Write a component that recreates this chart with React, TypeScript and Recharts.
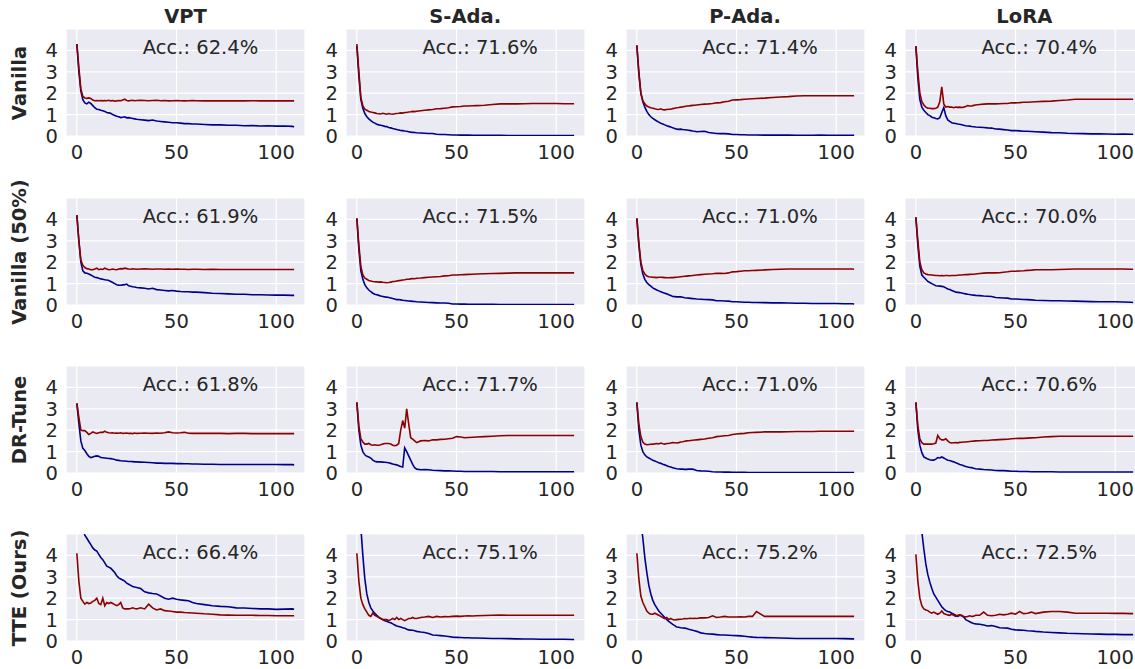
import React from 'react';
import { LineChart, Line, XAxis, YAxis, CartesianGrid } from 'recharts';

// epochs sampled from the curves (dense where the curves move, sparse where flat)
const EPOCHS = [
  0, 1, 2, 3, 4, 5, 6, 7, 8, 9,
  10, 11, 12, 13, 14, 15, 16, 17, 18, 19,
  20, 21, 22, 23, 24, 25, 26, 27, 28, 29, 30,
  32, 34, 36, 38, 40, 42, 44, 46, 48, 50, 52, 54, 56, 58, 60,
  64, 68, 72, 76, 80, 84, 88, 92, 96, 100, 104, 108, 109,
];

const METHODS = ['VPT', 'S-Ada.', 'P-Ada.', 'LoRA'];
const SETTINGS = ['Vanilla', 'Vanilla (50%)', 'DR-Tune', 'TTE (Ours)'];
const ACC = [
  [62.4, 71.6, 71.4, 70.4],
  [61.9, 71.5, 71.0, 70.0],
  [61.8, 71.7, 71.0, 70.6],
  [66.4, 75.1, 75.2, 72.5],
];

// ---- Vanilla ----
const vanVptRed = [
  4.3, 3.2, 2.2, 1.85, 1.78, 1.76, 1.78, 1.75, 1.68, 1.65,
  1.66, 1.65, 1.66, 1.64, 1.66, 1.65, 1.67, 1.64, 1.66, 1.63,
  1.64, 1.66, 1.65, 1.68, 1.72, 1.66, 1.64, 1.66, 1.67, 1.65, 1.66,
  1.67, 1.66, 1.65, 1.66, 1.67, 1.65, 1.66, 1.64, 1.65, 1.66, 1.65, 1.64, 1.65, 1.66, 1.65,
  1.64, 1.65, 1.64, 1.65, 1.64, 1.64, 1.65, 1.64, 1.64, 1.64, 1.64, 1.64, 1.64,
];
const vanVptBlue = [
  4.3, 3.0, 2.1, 1.7, 1.55, 1.5, 1.58, 1.52, 1.42, 1.32,
  1.25, 1.24, 1.2, 1.18, 1.15, 1.1, 1.08, 1.06, 1.0, 0.96,
  0.92, 0.9, 0.86, 0.88, 0.9, 0.85, 0.86, 0.84, 0.82, 0.8, 0.78,
  0.76, 0.74, 0.72, 0.75, 0.7, 0.68, 0.66, 0.64, 0.62, 0.62, 0.6, 0.58, 0.58, 0.56, 0.56,
  0.54, 0.52, 0.52, 0.5, 0.5, 0.48, 0.49, 0.47, 0.48, 0.46, 0.47, 0.45, 0.43,
];
const vanSadaRed = [
  4.3, 3.0, 1.8, 1.4, 1.25, 1.2, 1.15, 1.12, 1.1, 1.08,
  1.05, 1.04, 1.03, 1.06, 1.04, 1.02, 1.05, 1.03, 1.02, 1.04,
  1.05, 1.06, 1.08, 1.07, 1.1, 1.1, 1.12, 1.13, 1.15, 1.14, 1.16,
  1.18, 1.2, 1.22, 1.24, 1.27, 1.28, 1.3, 1.32, 1.36, 1.37, 1.38, 1.4, 1.4, 1.41, 1.42,
  1.44, 1.47, 1.5, 1.5, 1.5, 1.51, 1.52, 1.52, 1.52, 1.52, 1.51, 1.51, 1.51,
];
const vanSadaBlue = [
  4.2, 2.8, 1.7, 1.3, 1.05, 0.9, 0.8, 0.72, 0.65, 0.6,
  0.55, 0.52, 0.5, 0.48, 0.45, 0.44, 0.4, 0.38, 0.35, 0.33,
  0.3, 0.28, 0.26, 0.25, 0.23, 0.22, 0.2, 0.18, 0.17, 0.16, 0.15,
  0.14, 0.13, 0.12, 0.12, 0.08, 0.07, 0.07, 0.06, 0.05, 0.05, 0.04, 0.04, 0.04, 0.03, 0.03,
  0.03, 0.03, 0.03, 0.02, 0.02, 0.02, 0.02, 0.02, 0.02, 0.02, 0.02, 0.02, 0.02,
];
const vanPadaRed = [
  4.25, 3.0, 2.0, 1.65, 1.5, 1.4, 1.35, 1.32, 1.3, 1.27,
  1.25, 1.24, 1.27, 1.23, 1.22, 1.24, 1.25, 1.25, 1.28, 1.3,
  1.32, 1.33, 1.35, 1.36, 1.38, 1.4, 1.4, 1.42, 1.43, 1.44, 1.45,
  1.47, 1.49, 1.5, 1.52, 1.55, 1.56, 1.6, 1.62, 1.68, 1.69, 1.7, 1.72, 1.73, 1.74, 1.75,
  1.77, 1.8, 1.82, 1.84, 1.87, 1.88, 1.88, 1.88, 1.88, 1.88, 1.88, 1.88, 1.88,
];
const vanPadaBlue = [
  4.2, 2.9, 2.0, 1.6, 1.35, 1.15, 1.0, 0.9, 0.82, 0.76,
  0.7, 0.65, 0.6, 0.56, 0.52, 0.48, 0.45, 0.42, 0.38, 0.35,
  0.32, 0.31, 0.32, 0.3, 0.29, 0.28, 0.27, 0.25, 0.23, 0.22, 0.2,
  0.21, 0.22, 0.16, 0.14, 0.12, 0.11, 0.11, 0.1, 0.07, 0.07, 0.06, 0.06, 0.05, 0.05, 0.05,
  0.04, 0.04, 0.04, 0.04, 0.03, 0.03, 0.03, 0.04, 0.03, 0.03, 0.03, 0.03, 0.03,
];
const vanLoraRed = [
  4.2, 3.0, 2.0, 1.6, 1.45, 1.35, 1.3, 1.3, 1.28, 1.28,
  1.3, 1.35, 1.6, 2.3, 1.5, 1.35, 1.38, 1.35, 1.35, 1.32,
  1.35, 1.34, 1.35, 1.33, 1.35, 1.38, 1.42, 1.4, 1.4, 1.43, 1.45,
  1.47, 1.49, 1.5, 1.5, 1.5, 1.51, 1.52, 1.52, 1.55, 1.55, 1.56, 1.58, 1.58, 1.59, 1.6,
  1.62, 1.63, 1.66, 1.68, 1.72, 1.72, 1.72, 1.72, 1.72, 1.72, 1.72, 1.72, 1.72,
];
const vanLoraBlue = [
  4.2, 2.7, 1.7, 1.35, 1.2, 1.1, 1.0, 0.95, 0.88, 0.85,
  0.82, 0.8, 0.85, 1.1, 1.33, 0.95, 0.75, 0.68, 0.62, 0.6,
  0.58, 0.56, 0.55, 0.53, 0.5, 0.48, 0.47, 0.46, 0.44, 0.43, 0.42,
  0.41, 0.4, 0.38, 0.37, 0.33, 0.32, 0.3, 0.28, 0.25, 0.25, 0.24, 0.22, 0.22, 0.21, 0.2,
  0.18, 0.16, 0.15, 0.13, 0.12, 0.11, 0.1, 0.1, 0.09, 0.08, 0.09, 0.08, 0.08,
];

// ---- Vanilla (50%) ----
const halfVptRed = [
  4.2, 3.0, 2.1, 1.85, 1.75, 1.7, 1.68, 1.65, 1.65, 1.68,
  1.72, 1.65, 1.68, 1.66, 1.72, 1.68, 1.65, 1.66, 1.68, 1.66,
  1.65, 1.68, 1.7, 1.69, 1.72, 1.7, 1.68, 1.67, 1.69, 1.68, 1.67,
  1.68, 1.69, 1.68, 1.67, 1.68, 1.68, 1.67, 1.68, 1.67, 1.68, 1.67, 1.67, 1.66, 1.67, 1.67,
  1.66, 1.67, 1.66, 1.66, 1.66, 1.66, 1.66, 1.66, 1.66, 1.66, 1.66, 1.66, 1.66,
];
const halfVptBlue = [
  4.2, 3.0, 2.0, 1.6, 1.5, 1.48, 1.45, 1.4, 1.35, 1.3,
  1.28, 1.25, 1.22, 1.2, 1.18, 1.17, 1.15, 1.1, 1.05, 1.0,
  0.95, 0.93, 0.92, 0.94, 0.95, 0.98, 0.9, 0.88, 0.85, 0.84, 0.82,
  0.8, 0.78, 0.75, 0.78, 0.72, 0.7, 0.68, 0.66, 0.68, 0.65, 0.63, 0.62, 0.62, 0.6, 0.6,
  0.58, 0.55, 0.54, 0.52, 0.5, 0.5, 0.48, 0.48, 0.47, 0.46, 0.46, 0.45, 0.45,
];
const halfSadaRed = [
  4.05, 2.8, 1.8, 1.4, 1.25, 1.2, 1.15, 1.12, 1.1, 1.09,
  1.08, 1.07, 1.08, 1.06, 1.05, 1.04, 1.05, 1.07, 1.1, 1.1,
  1.12, 1.14, 1.15, 1.17, 1.18, 1.2, 1.2, 1.22, 1.24, 1.23, 1.25,
  1.26, 1.28, 1.3, 1.31, 1.32, 1.33, 1.36, 1.37, 1.4, 1.4, 1.41, 1.42, 1.43, 1.44, 1.45,
  1.46, 1.47, 1.48, 1.49, 1.5, 1.5, 1.5, 1.5, 1.5, 1.5, 1.5, 1.5, 1.5,
];
const halfSadaBlue = [
  4.05, 2.6, 1.6, 1.2, 0.95, 0.8, 0.7, 0.62, 0.55, 0.5,
  0.48, 0.45, 0.42, 0.4, 0.38, 0.37, 0.35, 0.33, 0.3, 0.28,
  0.25, 0.26, 0.24, 0.22, 0.21, 0.2, 0.19, 0.18, 0.17, 0.16, 0.15,
  0.14, 0.13, 0.12, 0.11, 0.1, 0.09, 0.09, 0.08, 0.05, 0.05, 0.04, 0.04, 0.03, 0.03, 0.03,
  0.03, 0.03, 0.02, 0.02, 0.02, 0.02, 0.02, 0.02, 0.02, 0.02, 0.02, 0.02, 0.02,
];
const halfPadaRed = [
  4.05, 2.9, 2.0, 1.6, 1.45, 1.35, 1.32, 1.31, 1.3, 1.29,
  1.28, 1.3, 1.3, 1.29, 1.28, 1.27, 1.27, 1.28, 1.28, 1.29,
  1.3, 1.31, 1.32, 1.33, 1.34, 1.35, 1.36, 1.37, 1.38, 1.39, 1.4,
  1.42, 1.44, 1.45, 1.46, 1.48, 1.48, 1.47, 1.5, 1.55, 1.56, 1.58, 1.6, 1.6, 1.61, 1.62,
  1.64, 1.66, 1.67, 1.68, 1.68, 1.68, 1.68, 1.68, 1.68, 1.68, 1.68, 1.68, 1.67,
];
const halfPadaBlue = [
  4.05, 2.8, 1.9, 1.45, 1.2, 1.05, 0.95, 0.88, 0.8, 0.75,
  0.7, 0.66, 0.62, 0.58, 0.55, 0.52, 0.48, 0.44, 0.4, 0.39,
  0.38, 0.38, 0.38, 0.36, 0.34, 0.33, 0.32, 0.31, 0.3, 0.29, 0.28,
  0.27, 0.26, 0.25, 0.24, 0.2, 0.2, 0.19, 0.18, 0.15, 0.15, 0.14, 0.13, 0.13, 0.12, 0.12,
  0.11, 0.1, 0.1, 0.09, 0.08, 0.08, 0.07, 0.07, 0.07, 0.07, 0.06, 0.06, 0.05,
];
const halfLoraRed = [
  4.1, 3.0, 2.0, 1.65, 1.5, 1.45, 1.42, 1.41, 1.4, 1.39,
  1.38, 1.38, 1.37, 1.38, 1.37, 1.38, 1.38, 1.37, 1.38, 1.38,
  1.38, 1.39, 1.4, 1.4, 1.41, 1.42, 1.42, 1.43, 1.44, 1.44, 1.45,
  1.47, 1.49, 1.5, 1.5, 1.5, 1.51, 1.53, 1.55, 1.58, 1.58, 1.59, 1.6, 1.62, 1.63, 1.65,
  1.65, 1.65, 1.66, 1.67, 1.68, 1.68, 1.68, 1.68, 1.68, 1.68, 1.68, 1.67, 1.67,
];
const halfLoraBlue = [
  4.1, 2.8, 1.8, 1.4, 1.3, 1.2, 1.1, 1.05, 1.0, 0.95,
  0.9, 0.89, 0.88, 0.87, 0.85, 0.8, 0.75, 0.72, 0.68, 0.64,
  0.6, 0.59, 0.58, 0.56, 0.54, 0.52, 0.5, 0.49, 0.47, 0.46, 0.45,
  0.44, 0.42, 0.41, 0.4, 0.35, 0.34, 0.33, 0.32, 0.28, 0.28, 0.27, 0.26, 0.25, 0.24, 0.22,
  0.21, 0.2, 0.2, 0.19, 0.18, 0.17, 0.16, 0.15, 0.15, 0.15, 0.14, 0.13, 0.12,
];

// ---- DR-Tune ----
const drVptRed = [
  3.25, 2.6, 2.0, 1.98, 1.98, 1.9, 1.8, 1.85, 1.92, 1.88,
  1.85, 1.88, 1.9, 1.9, 1.95, 1.9, 1.88, 1.87, 1.88, 1.86,
  1.87, 1.86, 1.88, 1.85, 1.86, 1.87, 1.85, 1.86, 1.84, 1.87, 1.85,
  1.86, 1.87, 1.86, 1.85, 1.87, 1.86, 1.88, 1.92, 1.88, 1.87, 1.88, 1.9, 1.86, 1.85, 1.85,
  1.86, 1.85, 1.85, 1.84, 1.85, 1.85, 1.84, 1.84, 1.84, 1.84, 1.84, 1.84, 1.84,
];
const drVptBlue = [
  3.25, 2.3, 1.5, 1.15, 1.05, 0.9, 0.78, 0.72, 0.75, 0.78,
  0.8, 0.78, 0.72, 0.71, 0.7, 0.69, 0.68, 0.67, 0.65, 0.63,
  0.6, 0.59, 0.57, 0.56, 0.56, 0.55, 0.54, 0.54, 0.53, 0.52, 0.52,
  0.51, 0.5, 0.49, 0.48, 0.46, 0.46, 0.45, 0.45, 0.45, 0.44, 0.44, 0.43, 0.43, 0.42, 0.42,
  0.41, 0.41, 0.4, 0.4, 0.4, 0.4, 0.4, 0.4, 0.4, 0.4, 0.39, 0.39, 0.38,
];
const drSadaRed = [
  3.3, 2.2, 1.6, 1.45, 1.35, 1.35, 1.38, 1.32, 1.3, 1.32,
  1.3, 1.3, 1.32, 1.35, 1.38, 1.38, 1.38, 1.35, 1.3, 1.28,
  1.3, 1.38, 2.0, 2.45, 2.1, 3.0, 2.3, 1.65, 1.58, 1.5, 1.42,
  1.5, 1.52, 1.5, 1.55, 1.55, 1.57, 1.58, 1.6, 1.62, 1.7, 1.68, 1.65, 1.66, 1.67, 1.68,
  1.7, 1.72, 1.74, 1.75, 1.75, 1.75, 1.75, 1.75, 1.75, 1.75, 1.75, 1.75, 1.75,
];
const drSadaBlue = [
  3.3, 2.0, 1.3, 1.0, 0.85, 0.78, 0.75, 0.7, 0.6, 0.55,
  0.52, 0.52, 0.52, 0.51, 0.5, 0.49, 0.48, 0.45, 0.42, 0.4,
  0.38, 0.34, 0.3, 0.28, 1.17, 1.0, 0.8, 0.6, 0.4, 0.25, 0.18,
  0.15, 0.16, 0.15, 0.13, 0.12, 0.11, 0.1, 0.1, 0.09, 0.08, 0.08, 0.07, 0.07, 0.07, 0.07,
  0.07, 0.07, 0.06, 0.06, 0.06, 0.06, 0.06, 0.06, 0.06, 0.06, 0.06, 0.06, 0.06,
];
const drPadaRed = [
  3.3, 2.3, 1.7, 1.45, 1.35, 1.32, 1.33, 1.34, 1.35, 1.36,
  1.38, 1.36, 1.4, 1.37, 1.35, 1.38, 1.38, 1.4, 1.42, 1.41,
  1.4, 1.42, 1.45, 1.46, 1.48, 1.5, 1.51, 1.52, 1.53, 1.54, 1.55,
  1.57, 1.59, 1.62, 1.65, 1.7, 1.72, 1.74, 1.75, 1.8, 1.82, 1.84, 1.85, 1.88, 1.89, 1.9,
  1.92, 1.93, 1.92, 1.93, 1.94, 1.94, 1.94, 1.95, 1.95, 1.95, 1.95, 1.95, 1.95,
];
const drPadaBlue = [
  3.3, 2.0, 1.3, 1.0, 0.85, 0.75, 0.7, 0.65, 0.6, 0.56,
  0.52, 0.48, 0.45, 0.41, 0.38, 0.34, 0.3, 0.28, 0.25, 0.22,
  0.2, 0.19, 0.18, 0.18, 0.17, 0.17, 0.18, 0.18, 0.18, 0.15, 0.12,
  0.1, 0.09, 0.08, 0.06, 0.05, 0.05, 0.04, 0.04, 0.03, 0.03, 0.03, 0.03, 0.02, 0.02, 0.02,
  0.02, 0.02, 0.02, 0.02, 0.02, 0.02, 0.02, 0.02, 0.02, 0.02, 0.02, 0.02, 0.02,
];
const drLoraRed = [
  3.3, 2.2, 1.6, 1.42, 1.35, 1.35, 1.35, 1.35, 1.35, 1.37,
  1.4, 1.75, 1.6, 1.55, 1.55, 1.6, 1.5, 1.42, 1.4, 1.41,
  1.42, 1.41, 1.43, 1.44, 1.45, 1.45, 1.46, 1.47, 1.48, 1.49, 1.5,
  1.51, 1.52, 1.52, 1.54, 1.55, 1.56, 1.57, 1.58, 1.6, 1.61, 1.62, 1.62, 1.63, 1.64, 1.65,
  1.68, 1.7, 1.72, 1.72, 1.72, 1.72, 1.72, 1.72, 1.72, 1.72, 1.72, 1.72, 1.72,
];
const drLoraBlue = [
  3.3, 2.0, 1.3, 0.95, 0.75, 0.7, 0.65, 0.62, 0.6, 0.6,
  0.65, 0.72, 0.7, 0.75, 0.7, 0.65, 0.6, 0.58, 0.55, 0.52,
  0.48, 0.44, 0.4, 0.37, 0.34, 0.3, 0.28, 0.26, 0.25, 0.22, 0.2,
  0.18, 0.16, 0.15, 0.14, 0.12, 0.11, 0.11, 0.1, 0.08, 0.08, 0.07, 0.07, 0.07, 0.06, 0.06,
  0.06, 0.06, 0.05, 0.05, 0.05, 0.05, 0.05, 0.05, 0.05, 0.05, 0.05, 0.05, 0.05,
];

// ---- TTE (Ours) ----
const tteVptRed = [
  4.1, 2.8, 2.0, 1.85, 1.72, 1.8, 1.75, 1.78, 1.85, 1.9,
  2.0, 1.75, 1.7, 2.0, 1.65, 1.8, 1.75, 1.8, 1.75, 1.7,
  1.65, 1.7, 1.8, 1.55, 1.5, 1.5, 1.5, 1.52, 1.55, 1.52, 1.5,
  1.55, 1.5, 1.72, 1.55, 1.45, 1.5, 1.42, 1.4, 1.38, 1.35, 1.35, 1.33, 1.32, 1.31, 1.3,
  1.27, 1.25, 1.22, 1.21, 1.2, 1.2, 1.2, 1.19, 1.19, 1.18, 1.18, 1.18, 1.18,
];
const tteVptBlue = [
  7.5, 6.5, 5.8, 5.3, 4.95, 4.8, 4.65, 4.5, 4.35, 4.25,
  4.2, 4.05, 3.9, 3.8, 3.65, 3.5, 3.45, 3.4, 3.3, 3.2,
  3.05, 2.95, 2.9, 2.85, 2.8, 2.7, 2.65, 2.6, 2.55, 2.52, 2.5,
  2.45, 2.3, 2.25, 2.22, 2.2, 2.1, 2.0, 1.95, 2.0, 1.95, 1.92, 1.9, 1.88, 1.8, 1.75,
  1.7, 1.65, 1.62, 1.6, 1.55, 1.54, 1.52, 1.5, 1.5, 1.48, 1.49, 1.5, 1.48,
];
const tteSadaRed = [
  4.1, 2.8, 2.0, 1.7, 1.5, 1.35, 1.2, 1.15, 1.3, 1.2,
  1.15, 1.1, 1.05, 1.0, 1.0, 1.0, 0.95, 1.0, 1.05, 1.0,
  1.1, 1.0, 1.05, 1.0, 0.95, 1.0, 1.05, 1.05, 1.1, 1.05, 1.05,
  1.1, 1.12, 1.15, 1.1, 1.15, 1.12, 1.14, 1.13, 1.15, 1.16, 1.15, 1.17, 1.18, 1.17, 1.18,
  1.19, 1.2, 1.21, 1.2, 1.2, 1.2, 1.2, 1.2, 1.2, 1.2, 1.2, 1.2, 1.2,
];
const tteSadaBlue = [
  8.0, 6.5, 5.3, 4.0, 2.9, 2.2, 1.8, 1.55, 1.4, 1.3,
  1.2, 1.12, 1.05, 1.0, 0.95, 0.92, 0.88, 0.85, 0.8, 0.75,
  0.7, 0.68, 0.65, 0.62, 0.6, 0.55, 0.52, 0.51, 0.5, 0.48, 0.45,
  0.42, 0.4, 0.35, 0.28, 0.27, 0.25, 0.23, 0.21, 0.18, 0.17, 0.16, 0.15, 0.15, 0.14, 0.14,
  0.13, 0.12, 0.12, 0.11, 0.1, 0.09, 0.09, 0.08, 0.08, 0.08, 0.08, 0.07, 0.07,
];
const ttePadaRed = [
  4.1, 2.9, 2.1, 1.8, 1.6, 1.4, 1.3, 1.25, 1.25, 1.3,
  1.25, 1.2, 1.15, 1.1, 1.05, 1.1, 1.0, 1.05, 1.0, 0.98,
  1.0, 1.01, 1.02, 1.03, 1.05, 1.04, 1.05, 1.06, 1.05, 1.06, 1.05,
  1.08, 1.08, 1.1, 1.18, 1.1, 1.12, 1.15, 1.12, 1.12, 1.12, 1.13, 1.12, 1.15, 1.15, 1.38,
  1.15, 1.16, 1.15, 1.15, 1.15, 1.15, 1.15, 1.15, 1.15, 1.15, 1.15, 1.15, 1.15,
];
const ttePadaBlue = [
  8.0, 6.8, 5.6, 4.8, 3.9, 3.2, 2.6, 2.2, 1.9, 1.7,
  1.55, 1.4, 1.3, 1.2, 1.1, 1.0, 0.92, 0.85, 0.78, 0.72,
  0.65, 0.64, 0.62, 0.61, 0.6, 0.58, 0.55, 0.53, 0.5, 0.48, 0.45,
  0.38, 0.35, 0.33, 0.32, 0.3, 0.28, 0.28, 0.27, 0.26, 0.25, 0.24, 0.22, 0.2, 0.18, 0.17,
  0.16, 0.15, 0.14, 0.13, 0.12, 0.12, 0.12, 0.12, 0.12, 0.12, 0.11, 0.1, 0.1,
];
const tteLoraRed = [
  4.05, 2.8, 2.0, 1.65, 1.5, 1.45, 1.42, 1.35, 1.3, 1.35,
  1.3, 1.25, 1.3, 1.4, 1.28, 1.25, 1.22, 1.2, 1.25, 1.2,
  1.15, 1.2, 1.22, 1.2, 1.15, 1.12, 1.15, 1.18, 1.15, 1.16, 1.2,
  1.2, 1.35, 1.2, 1.18, 1.2, 1.25, 1.22, 1.25, 1.3, 1.25, 1.38, 1.28, 1.3, 1.35, 1.28,
  1.35, 1.38, 1.38, 1.35, 1.3, 1.3, 1.3, 1.3, 1.3, 1.29, 1.29, 1.28, 1.28,
];
const tteLoraBlue = [
  8.0, 6.8, 5.8, 5.1, 4.3, 3.6, 3.1, 2.75, 2.45, 2.2,
  2.05, 1.9, 1.75, 1.6, 1.5, 1.42, 1.38, 1.35, 1.3, 1.25,
  1.2, 1.15, 1.2, 1.18, 1.12, 1.0, 0.95, 0.9, 0.85, 0.82, 0.8,
  0.78, 0.75, 0.7, 0.72, 0.68, 0.62, 0.61, 0.6, 0.55, 0.52, 0.51, 0.5, 0.48, 0.47, 0.45,
  0.42, 0.4, 0.38, 0.36, 0.35, 0.34, 0.33, 0.32, 0.31, 0.31, 0.3, 0.3, 0.3,
];

const SERIES = [
  [[vanVptRed, vanVptBlue], [vanSadaRed, vanSadaBlue], [vanPadaRed, vanPadaBlue], [vanLoraRed, vanLoraBlue]],
  [[halfVptRed, halfVptBlue], [halfSadaRed, halfSadaBlue], [halfPadaRed, halfPadaBlue], [halfLoraRed, halfLoraBlue]],
  [[drVptRed, drVptBlue], [drSadaRed, drSadaBlue], [drPadaRed, drPadaBlue], [drLoraRed, drLoraBlue]],
  [[tteVptRed, tteVptBlue], [tteSadaRed, tteSadaBlue], [ttePadaRed, ttePadaBlue], [tteLoraRed, tteLoraBlue]],
];

const COL_LEFT = [66, 345.7, 625.5, 904.8];
const ROW_TOP = [29, 198, 366, 534];
const PLOT_W = 239;
const PLOT_H = 107;
const Y_AXIS_W = 36;
const M_TOP = 5;
const X_AXIS_H = 30;

const FONT = "'DejaVu Sans', 'Liberation Sans', sans-serif";
const TEXT = '#262626';
const RED = '#8B0000';
const BLUE = '#00008B';
const FS = 19.5;

function Panel({ red, blue, left, top }: { red: number[]; blue: number[]; left: number; top: number }) {
  const data = EPOCHS.map((x, i) => ({ x, r: red[i], b: blue[i] }));
  const tick = { fontSize: FS, fill: TEXT, fontFamily: FONT };
  return (
    <div style={{ position: 'absolute', left: left - Y_AXIS_W, top: top - M_TOP }}>
      <LineChart
        width={Y_AXIS_W + PLOT_W + 5}
        height={M_TOP + PLOT_H + X_AXIS_H}
        data={data}
        margin={{ top: M_TOP, right: 5, left: 0, bottom: 0 }}
      >
        <CartesianGrid fill="#EAEAF2" stroke="#FFFFFF" strokeWidth={1.2} />
        <XAxis
          type="number"
          dataKey="x"
          domain={[-5.45, 114.45]}
          ticks={[0, 50, 100]}
          interval={0}
          allowDataOverflow
          axisLine={false}
          tickLine={false}
          tickMargin={3}
          height={X_AXIS_H}
          tick={tick}
        />
        <YAxis
          type="number"
          domain={[0, 5]}
          ticks={[0, 1, 2, 3, 4]}
          interval={0}
          allowDataOverflow
          axisLine={false}
          tickLine={false}
          width={Y_AXIS_W}
          tick={tick}
        />
        <Line type="linear" dataKey="b" stroke={BLUE} strokeWidth={1.6} dot={false} isAnimationActive={false} />
        <Line type="linear" dataKey="r" stroke={RED} strokeWidth={1.6} dot={false} isAnimationActive={false} />
      </LineChart>
    </div>
  );
}

export default function App() {
  return (
    <div
      style={{
        position: 'absolute',
        left: 0,
        top: 0,
        width: 1135,
        height: 669,
        overflow: 'hidden',
        background: '#fff',
        fontFamily: FONT,
        color: TEXT,
      }}
    >
      {METHODS.map((m, c) => (
        <div
          key={m}
          style={{
            position: 'absolute',
            left: COL_LEFT[c],
            top: 7,
            width: PLOT_W,
            textAlign: 'center',
            fontSize: FS,
            lineHeight: '20px',
            fontWeight: 'bold',
          }}
        >
          {m}
        </div>
      ))}
      {SETTINGS.map((s, r) => (
        <div
          key={s}
          style={{
            position: 'absolute',
            left: 20 - 100,
            top: ROW_TOP[r] + PLOT_H / 2 - 10,
            width: 200,
            height: 20,
            textAlign: 'center',
            fontSize: FS,
            lineHeight: '20px',
            fontWeight: 'bold',
            transform: 'rotate(-90deg)',
            whiteSpace: 'nowrap',
          }}
        >
          {s}
        </div>
      ))}
      {SERIES.map((row, r) =>
        row.map(([red, blue], c) => (
          <React.Fragment key={`${r}-${c}`}>
            <Panel red={red} blue={blue} left={COL_LEFT[c]} top={ROW_TOP[r]} />
            <div
              style={{
                position: 'absolute',
                left: COL_LEFT[c] + 134.5 - 80,
                top: ROW_TOP[r] + 9,
                width: 160,
                textAlign: 'center',
                fontSize: FS,
                lineHeight: '20px',
                whiteSpace: 'nowrap',
              }}
            >
              {`Acc.: ${ACC[r][c].toFixed(1)}%`}
            </div>
          </React.Fragment>
        )),
      )}
    </div>
  );
}
